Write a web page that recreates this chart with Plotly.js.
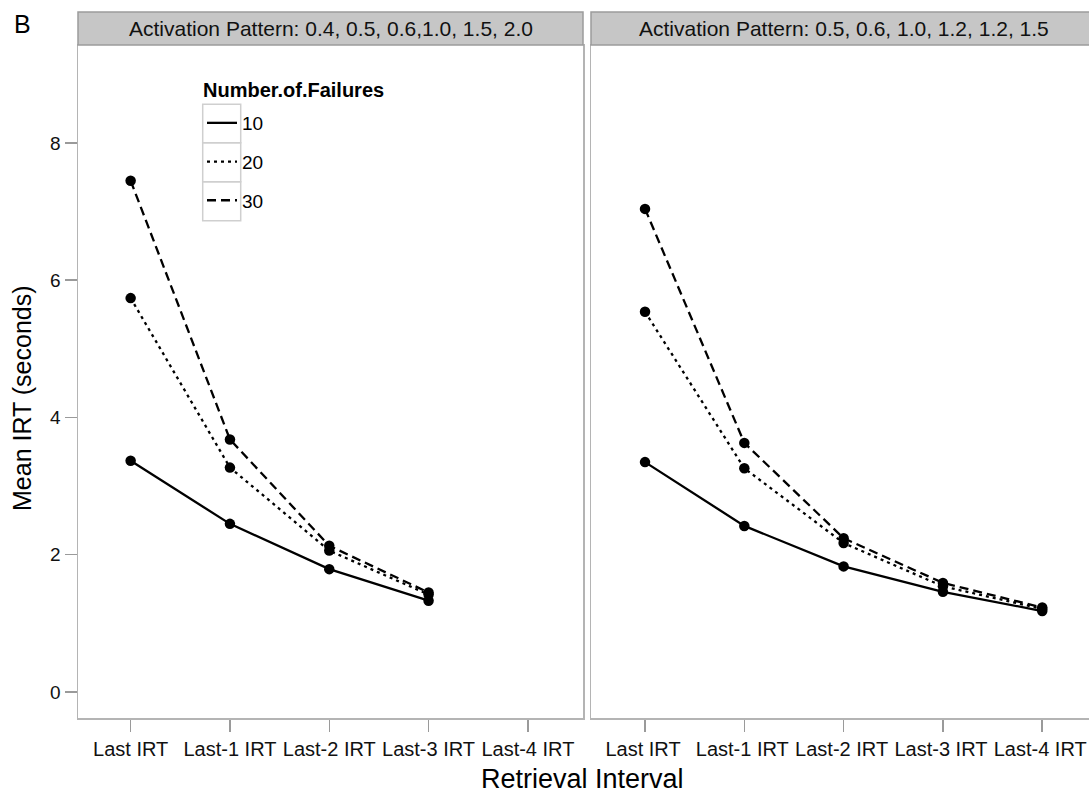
<!DOCTYPE html>
<html>
<head>
<meta charset="utf-8">
<script src="https://cdn.plot.ly/plotly-3.0.1.min.js"></script>
<style>
  html, body { margin: 0; padding: 0; background: #ffffff; }
  #chart { width: 1089px; height: 794px; }
</style>
</head>
<body>
<div id="chart"></div>
<script>
// ---- data ----
const categories = ['Last IRT', 'Last-1 IRT', 'Last-2 IRT', 'Last-3 IRT', 'Last-4 IRT'];
const leftCategories = ['Last IRT', 'Last-1 IRT', 'Last-2 IRT', 'Last-3 IRT'];
const failureLevels = ['10', '20', '30'];
const legendTitle = 'Number.of.Failures';
const panelTitles = [
  'Activation Pattern: 0.4, 0.5, 0.6,1.0, 1.5, 2.0',
  'Activation Pattern: 0.5, 0.6, 1.0, 1.2, 1.2, 1.5'
];
const left10 = [3.37, 2.45, 1.79, 1.33];
const left20 = [5.74, 3.27, 2.06, 1.42];
const left30 = [7.45, 3.68, 2.13, 1.45];
const right10 = [3.35, 2.42, 1.83, 1.46, 1.18];
const right20 = [5.54, 3.26, 2.17, 1.54, 1.21];
const right30 = [7.04, 3.63, 2.24, 1.59, 1.23];
const yTicks = [0, 2, 4, 6, 8];

// ---- styling ----
const FONT = 'Liberation Sans, Arial, Helvetica, sans-serif';
const dashes = {'10': 'solid', '20': '3px,4px', '30': '9px,5px'};
const INK = '#000000';
const FRAME = '#b4b4b4';

// figure geometry (pixels)
const W = 1089, H = 794;
const M = {l: 78, r: 0, t: 45, b: 76};
const PW = W - M.l - M.r, PH = H - M.t - M.b;
const px2x = p => (p - M.l) / PW;
const py2y = p => (H - M.b - p) / PH;

const leftDomain = [0, px2x(583)];
const rightDomain = [px2x(591), 1];

const panels = [
  {xa: 'x', ya: 'y', x: leftCategories, series: {'10': left10, '20': left20, '30': left30}, legend: true},
  {xa: 'x2', ya: 'y2', x: categories, series: {'10': right10, '20': right20, '30': right30}, legend: false}
];

const traces = [];
panels.forEach(p => {
  failureLevels.forEach(lvl => {
    traces.push({
      type: 'scatter', mode: 'lines', name: lvl, legendgroup: 'g' + lvl,
      x: p.x, y: p.series[lvl], xaxis: p.xa, yaxis: p.ya,
      line: {color: INK, width: 2.3, dash: dashes[lvl]},
      showlegend: p.legend, hoverinfo: 'skip'
    });
  });
});
panels.forEach(p => {
  failureLevels.forEach(lvl => {
    traces.push({
      type: 'scatter', mode: 'markers', name: lvl, legendgroup: 'g' + lvl,
      x: p.x, y: p.series[lvl], xaxis: p.xa, yaxis: p.ya,
      marker: {color: INK, size: 10.5},
      showlegend: false, hoverinfo: 'skip'
    });
  });
});

const xCommon = {
  type: 'category', categoryorder: 'array', categoryarray: categories,
  tickmode: 'array', tickvals: categories, ticktext: categories,
  tickangle: 0, ticks: 'outside', ticklen: 12, tickwidth: 1.5, tickcolor: '#9a9a9a',
  showline: true, linecolor: FRAME, linewidth: 1.5, mirror: true,
  showgrid: false, zeroline: false,
  tickfont: {family: FONT, size: 20, color: '#111111'}
};
const yRange = [-0.379, 9.428];

const stripShapes = [leftDomain, rightDomain].map(d => ({
  type: 'rect', xref: 'paper', yref: 'paper',
  x0: d[0], x1: d[1] + (d[1] >= 1 ? 0.01 : 0), y0: 1, y1: py2y(12),
  fillcolor: '#c6c6c6', line: {color: '#9c9c9c', width: 1.5}, layer: 'above'
}));

const keyRows = [[104.3, 142.7], [142.7, 181.7], [181.7, 220.7]];
const keyShapes = keyRows.map(r => ({
  type: 'rect', xref: 'paper', yref: 'paper',
  x0: px2x(202.7), x1: px2x(240.7), y0: py2y(r[1]), y1: py2y(r[0]),
  fillcolor: 'rgba(0,0,0,0)', line: {color: '#cfcfcf', width: 1.5}, layer: 'below'
}));

const annotations = [
  {text: panelTitles[0], xref: 'paper', yref: 'paper', x: (leftDomain[0] + leftDomain[1]) / 2, y: py2y(28.5),
   showarrow: false, xanchor: 'center', yanchor: 'middle', font: {family: FONT, size: 21, color: '#111111'}},
  {text: panelTitles[1], xref: 'paper', yref: 'paper', x: px2x(843.5), y: py2y(28.5),
   showarrow: false, xanchor: 'center', yanchor: 'middle', font: {family: FONT, size: 21, color: '#111111'}},
  {text: 'Retrieval Interval', xref: 'paper', yref: 'paper', x: px2x(582), y: py2y(779),
   showarrow: false, xanchor: 'center', yanchor: 'middle', font: {family: FONT, size: 27, color: '#000000'}},
  {text: 'Mean IRT (seconds)', xref: 'paper', yref: 'paper', x: px2x(22), y: py2y(398), textangle: -90,
   showarrow: false, xanchor: 'center', yanchor: 'middle', font: {family: FONT, size: 25, color: '#000000'}},
  {text: 'B', xref: 'paper', yref: 'paper', x: px2x(22), y: py2y(24),
   showarrow: false, xanchor: 'center', yanchor: 'middle', font: {family: FONT, size: 25, color: '#000000'}},
  {text: '<b>' + legendTitle + '</b>', xref: 'paper', yref: 'paper', x: px2x(201), y: py2y(89.5),
   showarrow: false, xanchor: 'left', yanchor: 'middle', font: {family: FONT, size: 20, color: '#000000'}}
];

const layout = {
  width: W, height: H,
  margin: M,
  paper_bgcolor: '#ffffff', plot_bgcolor: '#ffffff',
  font: {family: FONT, color: '#000000'},
  showlegend: true,
  legend: {
    x: px2x(202), y: py2y(104), xanchor: 'left', yanchor: 'top',
    bgcolor: 'rgba(0,0,0,0)', borderwidth: 0,
    font: {family: FONT, size: 19, color: '#000000'},
    tracegroupgap: 11, itemwidth: 30
  },
  xaxis: Object.assign({}, xCommon, {domain: leftDomain, range: [-0.53, 4.555], anchor: 'y'}),
  xaxis2: Object.assign({}, xCommon, {domain: rightDomain, range: [-0.544, 4.471], anchor: 'y2', ticklabelshift: -2}),
  yaxis: {
    domain: [0, 1], range: yRange, anchor: 'x',
    tickmode: 'array', tickvals: yTicks, ticktext: yTicks.map(String),
    ticks: 'outside', ticklen: 12, tickwidth: 1.5, tickcolor: '#9a9a9a',
    showline: true, linecolor: FRAME, linewidth: 1.5, mirror: true,
    showgrid: false, zeroline: false,
    tickfont: {family: FONT, size: 19, color: '#111111'}
  },
  yaxis2: {
    domain: [0, 1], range: yRange, anchor: 'x2',
    showticklabels: false, ticks: '',
    showline: true, linecolor: FRAME, linewidth: 1.5, mirror: false,
    showgrid: false, zeroline: false
  },
  shapes: stripShapes.concat(keyShapes),
  annotations: annotations
};

Plotly.newPlot('chart', traces, layout, {staticPlot: true, displayModeBar: false});
</script>
</body>
</html>
